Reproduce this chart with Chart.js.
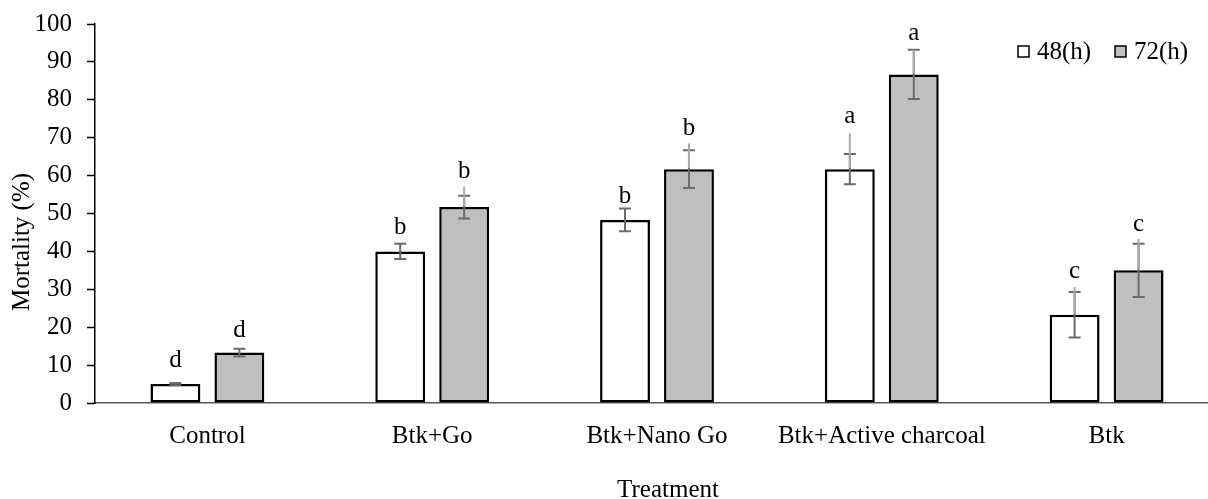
<!DOCTYPE html>
<html>
<head>
<meta charset="utf-8">
<script src="https://cdn.jsdelivr.net/npm/chart.js@4/dist/chart.umd.min.js"></script>
<style>
    html, body { margin: 0; padding: 0; background: #fff; overflow: hidden; }
    #wrap { width: 1230px; height: 499px; }
</style>
</head>
<body>
<div id="wrap"><canvas id="chart" width="1230" height="499"></canvas></div>
<script>
    // Data
    const treatments = ["Control", "Btk+Go", "Btk+Nano Go", "Btk+Active charcoal", "Btk"];
    const seriesNames = ["48(h)", "72(h)"];

    const mortality48 = [5.0, 40.0, 48.3, 61.7, 23.3];
    const mortality72 = [13.3, 51.7, 61.7, 86.7, 35.0];

    // error bars (+/-) and the lighter upper whisker length
    const err48 = [0.3, 2.0, 3.0, 4.0, 6.0];
    const err72 = [1.0, 3.0, 5.0, 6.5, 7.0];
    const upper48 = [0, 0, 0, 9.4, 7.3];
    const upper72 = [0, 5.4, 6.8, 6.5, 8.3];

    // significance letters and their baseline heights (in %)
    const letters48 = ["d", "b", "b", "a", "c"];
    const letters72 = ["d", "b", "b", "a", "c"];
    const letterPos48 = [9.5, 44.6, 52.7, 73.8, 33.0];
    const letterPos72 = [17.4, 59.4, 70.7, 95.8, 45.4];

    const yTicks = { min: 0, max: 100, step: 10 };

    const FONT = "'Liberation Serif', 'Times New Roman', serif";
    const FONT_SIZE = 25;

    const errorInfo = [
        { err: err48, upper: upper48, letters: letters48, pos: letterPos48 },
        { err: err72, upper: upper72, letters: letters72, pos: letterPos72 }
    ];

    // Error bars + letters above each bar
    const errorBarPlugin = {
        id: "errorBars",
        afterDatasetsDraw(chart) {
            const ctx = chart.ctx;
            const y = chart.scales.y;
            ctx.save();
            chart.data.datasets.forEach((ds, i) => {
                const meta = chart.getDatasetMeta(i);
                const info = errorInfo[i];
                meta.data.forEach((bar, j) => {
                    const v = ds.data[j];
                    const e = info.err[j];
                    const x = bar.x;
                    const yLo = y.getPixelForValue(v - e);
                    const yHi = y.getPixelForValue(v + e);

                    ctx.strokeStyle = "#6b6b6b";
                    ctx.lineWidth = 2;
                    ctx.beginPath();
                    ctx.moveTo(x, yLo); ctx.lineTo(x, yHi);
                    ctx.moveTo(x - 6, yLo); ctx.lineTo(x + 6, yLo);
                    ctx.moveTo(x - 6, yHi); ctx.lineTo(x + 6, yHi);
                    ctx.stroke();

                    if (info.upper[j] > 0) {
                        ctx.strokeStyle = "#ababab";
                        ctx.beginPath();
                        ctx.moveTo(x, y.getPixelForValue(v) - 1);
                        ctx.lineTo(x, y.getPixelForValue(v + info.upper[j]));
                        ctx.stroke();
                    }

                    ctx.fillStyle = "#000";
                    ctx.font = FONT_SIZE + "px " + FONT;
                    ctx.textAlign = "center";
                    ctx.textBaseline = "alphabetic";
                    ctx.fillText(info.letters[j], x, y.getPixelForValue(info.pos[j]));
                });
            });
            ctx.restore();
        },
        afterDraw(chart) {
            const ctx = chart.ctx;
            ctx.save();
            ctx.fillStyle = "#000";
            ctx.font = FONT_SIZE + "px " + FONT;

            // legend
            const legendX = [1018, 1115];
            chart.data.datasets.forEach((ds, i) => {
                ctx.fillStyle = ds.backgroundColor;
                ctx.fillRect(legendX[i], 46, 11, 11);
                ctx.strokeStyle = "#000";
                ctx.lineWidth = 1.5;
                ctx.strokeRect(legendX[i], 46, 11, 11);
                ctx.fillStyle = "#000";
                ctx.textAlign = "left";
                ctx.textBaseline = "middle";
                ctx.fillText(ds.label, legendX[i] + 19, 52);
            });

            // axis titles
            ctx.textAlign = "center";
            ctx.textBaseline = "middle";
            ctx.fillText("Treatment", 668, 490);

            ctx.translate(22, 242);
            ctx.rotate(-Math.PI / 2);
            ctx.fillText("Mortality (%)", 0, 0);
            ctx.restore();
        }
    };

    new Chart(document.getElementById("chart").getContext("2d"), {
        type: "bar",
        data: {
            labels: treatments,
            datasets: [
                {
                    label: seriesNames[0],
                    data: mortality48,
                    backgroundColor: "#ffffff",
                    borderColor: "#000000",
                    borderWidth: 2.5,
                    borderSkipped: false
                },
                {
                    label: seriesNames[1],
                    data: mortality72,
                    backgroundColor: "#bfbfbf",
                    borderColor: "#000000",
                    borderWidth: 2.5,
                    borderSkipped: false
                }
            ]
        },
        options: {
            responsive: false,
            animation: false,
            categoryPercentage: 0.569,
            barPercentage: 0.78,
            layout: { padding: { top: 24, right: 11, left: 0, bottom: 0 } },
            plugins: {
                legend: { display: false },
                tooltip: { enabled: false }
            },
            scales: {
                x: {
                    afterFit: s => {
                        s.height = 96;
                        s.paddingLeft = 0; s.paddingRight = 0;
                    },
                    grid: { display: true, drawOnChartArea: false, drawTicks: false },
                    border: { display: true, color: "#595959", width: 1.5 },
                    ticks: {
                        color: "#000",
                        padding: 18,
                        maxRotation: 0,
                        font: { family: FONT, size: FONT_SIZE }
                    }
                },
                y: {
                    min: yTicks.min,
                    max: yTicks.max,
                    afterFit: s => {
                        s.width = 95;
                        s.paddingTop = 0; s.paddingBottom = 0;
                    },
                    grid: {
                        display: true,
                        drawOnChartArea: false,
                        drawTicks: true,
                        tickLength: 8,
                        tickColor: "#000",
                        tickWidth: 1.5
                    },
                    border: { display: true, color: "#000", width: 1.5 },
                    ticks: {
                        stepSize: yTicks.step,
                        color: "#000",
                        padding: 15,
                        font: { family: FONT, size: FONT_SIZE }
                    }
                }
            }
        },
        plugins: [errorBarPlugin]
    });
</script>
</body>
</html>
